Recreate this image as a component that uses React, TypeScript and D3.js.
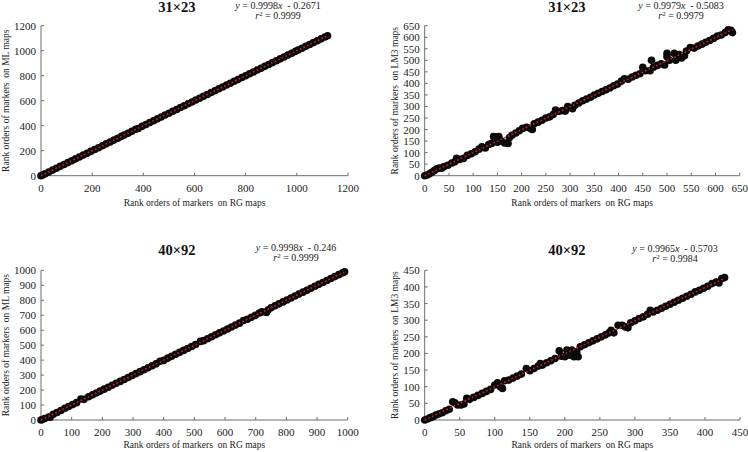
import React from "react";
import * as d3 from "d3";

type Pt = [number, number];

// 31×23 — ML vs RG
const ml31: Pt[] = [[0,0],[8,7],[16,16],[30,29],[45,45],[60,60],[75,75],[90,90],[105,105],[120,120],[135,135],[150,150],[165,165],[180,180],[195,195],[210,210],[225,224],[240,240],[255,255],[270,270],[285,285],[300,300],[315,315],[325,326],[340,340],[355,355],[370,372],[380,378],[395,395],[410,410],[425,425],[440,440],[455,455],[470,470],[485,485],[500,500],[515,515],[530,530],[545,545],[560,560],[575,575],[590,590],[605,605],[620,620],[635,635],[650,650],[665,665],[680,680],[695,695],[710,710],[725,725],[740,740],[755,755],[770,770],[785,785],[800,800],[815,815],[830,830],[845,845],[860,860],[875,875],[890,890],[905,905],[920,920],[935,935],[950,950],[965,965],[980,980],[995,995],[1005,1005],[1020,1020],[1035,1035],[1050,1050],[1065,1065],[1080,1080],[1095,1095],[1110,1110],[1120,1120]];

// 31×23 — LM3 vs RG
const lm31: Pt[] = [[0,0],[5,3],[10,8],[15,15],[20,22],[25,30],[30,33],[35,32],[40,40],[48,45],[56,55],[62,60],[66,75],[72,70],[80,75],[88,88],[96,95],[104,104],[112,115],[118,125],[125,120],[132,135],[138,140],[142,170],[148,168],[153,170],[150,145],[158,150],[165,142],[172,140],[175,165],[180,175],[188,185],[195,195],[202,205],[210,210],[218,205],[222,200],[226,225],[234,232],[242,240],[250,250],[258,255],[265,265],[270,285],[276,278],[284,282],[290,280],[295,300],[300,295],[305,290],[310,305],[318,315],[326,325],[334,332],[342,340],[350,350],[358,357],[366,365],[374,372],[382,380],[390,390],[398,397],[406,410],[412,420],[420,418],[428,428],[436,435],[444,442],[450,470],[456,455],[465,455],[468,500],[472,470],[480,478],[488,485],[495,480],[500,530],[500,515],[505,500],[515,530],[518,500],[525,525],[530,510],[536,520],[540,540],[548,555],[556,553],[564,562],[572,570],[580,578],[588,586],[596,595],[604,605],[612,610],[620,620],[626,632],[632,630],[635,620]];

// 40×92 — ML vs RG
const ml40: Pt[] = [[0,0],[5,3],[12,10],[25,20],[30,18],[40,38],[52,50],[65,63],[78,78],[90,90],[103,103],[116,116],[130,140],[140,138],[155,155],[168,168],[180,180],[193,193],[206,206],[219,219],[232,232],[245,245],[258,258],[271,271],[284,284],[297,297],[310,310],[323,323],[336,336],[349,349],[362,362],[375,375],[388,392],[400,398],[413,413],[426,426],[439,439],[452,452],[465,465],[478,478],[491,491],[504,504],[520,525],[530,530],[543,543],[556,556],[569,569],[582,582],[595,595],[608,608],[621,621],[634,634],[647,647],[660,665],[673,673],[686,686],[699,699],[712,715],[720,722],[735,718],[740,735],[750,750],[763,763],[776,776],[789,789],[802,802],[815,815],[828,828],[841,841],[854,854],[867,867],[880,880],[893,893],[906,906],[919,919],[932,932],[945,945],[958,958],[971,971],[984,984],[990,990]];

// 40×92 — LM3 vs RG
const lm40: Pt[] = [[0,0],[4,3],[8,7],[12,10],[16,15],[20,18],[25,22],[30,28],[35,32],[40,55],[43,52],[47,45],[52,45],[56,48],[60,65],[64,62],[70,68],[76,74],[82,80],[88,86],[94,92],[100,105],[104,112],[108,100],[111,95],[114,118],[120,120],[126,126],[132,132],[138,138],[145,155],[150,148],[156,155],[162,162],[165,170],[168,165],[174,172],[180,178],[186,185],[192,208],[195,192],[200,190],[203,210],[207,195],[210,210],[213,190],[217,205],[219,190],[222,220],[228,226],[234,232],[240,238],[246,244],[252,250],[258,256],[263,262],[266,270],[270,262],[276,285],[282,285],[286,280],[290,277],[294,292],[300,298],[306,305],[312,310],[318,318],[322,330],[326,325],[332,330],[338,336],[344,342],[350,348],[356,354],[362,360],[368,366],[374,372],[380,378],[386,385],[392,390],[398,396],[404,402],[410,410],[416,415],[420,412],[424,425],[428,428]];

const titles = ["31×23", "31×23", "40×92", "40×92"];
const slopes = [0.9998, 0.9979, 0.9998, 0.9965];
const intercepts = [-0.2671, -0.5083, -0.246, -0.5703];
const slopeLabels = ["0.9998", "0.9979", "0.9998", "0.9965"];
const interceptLabels = ["0.2671", "0.5083", "0.246", "0.5703"];
const r2Labels = ["0.9999", "0.9979", "0.9999", "0.9984"];
const yAxisTitles = [
  "Rank orders of markers  on ML maps",
  "Rank orders of markers  on LM3 maps",
  "Rank orders of markers  on ML maps",
  "Rank orders of markers  on LM3 maps",
];
const xAxisTitle = "Rank orders of markers  on RG maps";
const axisMax = [1200, 650, 1000, 450];
const axisStep = [200, 50, 100, 50];
const allData = [ml31, lm31, ml40, lm40];

const FONT = "'Liberation Serif', 'Times New Roman', serif";

const layouts = [
  { l: 41, r: 348, t: 25.7, b: 175.7, titleX: 177, titleY: 12, eqX: 278, eqY: 9, r2Y: 19, xtY: 206, ytX: 9 },
  { l: 424.7, r: 739.7, t: 25.7, b: 175.7, titleX: 567, titleY: 12, eqX: 681, eqY: 9, r2Y: 19, xtY: 206, ytX: 398 },
  { l: 41, r: 347.7, t: 270.3, b: 420, titleX: 177, titleY: 255, eqX: 296, eqY: 251, r2Y: 261, xtY: 448, ytX: 9 },
  { l: 424.7, r: 740, t: 270.3, b: 420, titleX: 567, titleY: 255, eqX: 675, eqY: 252, r2Y: 262, xtY: 448, ytX: 398 },
];

function Panel({ i }: { i: number }) {
  const L = layouts[i];
  const data = allData[i];
  const max = axisMax[i];
  const x = d3.scaleLinear().domain([0, max]).range([L.l, L.r]);
  const y = d3.scaleLinear().domain([0, max]).range([L.b, L.t]);
  const ticks = d3.range(0, max + 1, axisStep[i]);
  const xMaxData = d3.max(data, (d) => d[0]) as number;
  const a = slopes[i];
  const b = intercepts[i];
  const axisColor = "#6d6d6d";
  return (
    <g>
      <line x1={L.l} x2={L.r} y1={L.b} y2={L.b} stroke={axisColor} strokeWidth={1} />
      <line x1={L.l} x2={L.l} y1={L.t} y2={L.b} stroke={axisColor} strokeWidth={1} />
      {ticks.map((t) => (
        <g key={"x" + t}>
          <line x1={x(t)} x2={x(t)} y1={L.b} y2={L.b - 3} stroke={axisColor} />
          <text x={x(t)} y={L.b + 16} textAnchor="middle" fontSize={11} fontFamily={FONT} fill="#222">
            {t}
          </text>
        </g>
      ))}
      {ticks.map((t) => (
        <g key={"y" + t}>
          <line x1={L.l} x2={L.l + 3} y1={y(t)} y2={y(t)} stroke={axisColor} />
          <text x={L.l - 5} y={y(t) + 4} textAnchor="end" fontSize={11} fontFamily={FONT} fill="#222">
            {t}
          </text>
        </g>
      ))}
      {data.map((d, k) => (
        <circle key={k} cx={x(d[0])} cy={y(d[1])} r={3.8} fill="#0a0a0a" />
      ))}
      <line
        x1={x(0)}
        y1={y(Math.max(0, b))}
        x2={x(xMaxData)}
        y2={y(a * xMaxData + b)}
        stroke="#d42020"
        strokeWidth={1.6}
        strokeDasharray="1.6 2.4"
      />
      <text x={L.titleX} y={L.titleY} textAnchor="middle" fontSize={14.5} fontWeight="bold" fontFamily={FONT} fill="#111">
        {titles[i]}
      </text>
      <text x={L.eqX} y={L.eqY} textAnchor="middle" fontSize={10} fontFamily={FONT} fill="#222" style={{ whiteSpace: "pre" }}>
        <tspan fontStyle="italic">y</tspan>
        <tspan>{" = " + slopeLabels[i]}</tspan>
        <tspan fontStyle="italic">x</tspan>
        <tspan>{"  - " + interceptLabels[i]}</tspan>
      </text>
      <text x={L.eqX} y={L.r2Y} textAnchor="middle" fontSize={10} fontFamily={FONT} fill="#222">
        <tspan fontStyle="italic">r</tspan>
        <tspan fontSize={7} dy={-3.5}>2</tspan>
        <tspan dy={3.5}>{" = " + r2Labels[i]}</tspan>
      </text>
      <text
        x={(L.l + L.r) / 2}
        y={L.xtY}
        textAnchor="middle"
        fontSize={9.5}
        fontFamily={FONT}
        fill="#222"
        style={{ whiteSpace: "pre" }}
      >
        {xAxisTitle}
      </text>
      <text
        transform={`translate(${L.ytX},${(L.t + L.b) / 2}) rotate(-90)`}
        textAnchor="middle"
        fontSize={9.5}
        fontFamily={FONT}
        fill="#222"
        style={{ whiteSpace: "pre" }}
      >
        {yAxisTitles[i]}
      </text>
    </g>
  );
}

export default function App() {
  return (
    <svg
      width={748}
      height={452}
      style={{ position: "absolute", left: 0, top: 0, background: "#fff" }}
    >
      <rect width={748} height={452} fill="#fff" />
      {[0, 1, 2, 3].map((i) => (
        <Panel key={i} i={i} />
      ))}
    </svg>
  );
}
